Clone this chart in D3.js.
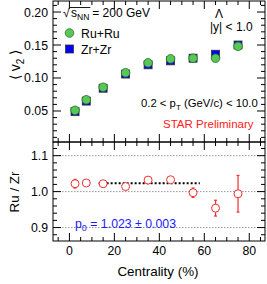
<!DOCTYPE html>
<html>
<head>
<meta charset="utf-8">
<script src="https://cdn.jsdelivr.net/npm/d3@7"></script>
<style>
  body { margin: 0; background: #fff; }
  svg { display: block; font-family: "Liberation Sans", Arial, sans-serif; }
</style>
</head>
<body>
<div id="chart"></div>
<script>
// centrality bins (%)
const cent = [2.5, 7.5, 15, 25, 35, 45, 55, 65, 75];
// <v2> for Ru+Ru and Zr+Zr
const v2Ru = [0.051, 0.067, 0.086, 0.108, 0.123, 0.129, 0.130, 0.130, 0.148];
const v2Zr = [0.049, 0.065, 0.0845, 0.106, 0.120, 0.126, 0.130, 0.136, 0.150];
// Ru / Zr ratio and its errors
const ratio = [1.022, 1.024, 1.022, 1.014, 1.032, 1.033, 0.997, 0.954, 0.994];
const ratioErr = [0.012, 0.005, 0.005, 0.005, 0.006, 0.007, 0.013, 0.022, 0.051];
// constant fit
const fitP0 = 1.023;
const fitRange = [13, 58];
// tick labels
const xTicks = [0, 20, 40, 60, 80];
const v2Ticks = [0.05, 0.10, 0.15, 0.20];
const ratioTicks = [0.9, 1.0, 1.1];

let W = 267, H = 284;
let pLeft = 53, pRight = 265, pTop = 1, pMid = 142, pBottom = 241;

let svg = d3.select("#chart").append("svg")
	.attr("width", W)
	.attr("height", H);

let x = d3.scaleLinear().domain([-7.3, 87]).range([pLeft, pRight]);
let yTop = d3.scaleLinear().domain([0.003, 0.2167]).range([pMid, pTop]);
let yBot = d3.scaleLinear().domain([0.8626, 1.138]).range([pBottom, pMid]);

// draw ticks of one panel on all four sides
function panelTicks(y, y0, y1, majorY, minorY) {
	let xMinor = d3.range(-5, 86, 5);
	let g = svg.append("g").attr("stroke", "#000").attr("stroke-width", 1);
	xMinor.forEach(function (v) {
		let len = (v % 20 === 0) ? 8 : 4;
		g.append("line").attr("x1", x(v)).attr("x2", x(v)).attr("y1", y(y0)).attr("y2", y(y0) - len);
		g.append("line").attr("x1", x(v)).attr("x2", x(v)).attr("y1", y(y1)).attr("y2", y(y1) + len);
	});
	minorY.forEach(function (v) {
		let major = majorY.some(function (m) { return Math.abs(m - v) < 1e-6; });
		let len = major ? 8 : 4;
		g.append("line").attr("x1", pLeft).attr("x2", pLeft + len).attr("y1", y(v)).attr("y2", y(v));
		g.append("line").attr("x1", pRight).attr("x2", pRight - len).attr("y1", y(v)).attr("y2", y(v));
	});
	svg.append("rect")
		.attr("x", pLeft).attr("y", y(y1))
		.attr("width", pRight - pLeft).attr("height", y(y0) - y(y1))
		.attr("fill", "none").attr("stroke", "#000").attr("stroke-width", 1);
}

// ---------- top panel ----------
panelTicks(yTop, 0.003, 0.2167, v2Ticks, d3.range(0.01, 0.215, 0.01));

svg.append("g").selectAll("text")
	.data(v2Ticks).enter().append("text")
	.attr("x", 48).attr("y", function (d) { return yTop(d) + 4.5; })
	.attr("text-anchor", "end").attr("font-size", 12.3)
	.text(function (d) { return d3.format(".2f")(d); });

svg.append("g").selectAll("rect")
	.data(cent).enter().append("rect")
	.attr("x", function (d) { return x(d) - 4; })
	.attr("y", function (d, i) { return yTop(v2Zr[i]) - 4; })
	.attr("width", 8).attr("height", 8)
	.attr("fill", "#0000ff").attr("stroke", "#333").attr("stroke-width", 0.8);

svg.append("g").selectAll("circle")
	.data(cent).enter().append("circle")
	.attr("cx", function (d) { return x(d); })
	.attr("cy", function (d, i) { return yTop(v2Ru[i]); })
	.attr("r", 4.3)
	.attr("fill", "#55c855").attr("stroke", "#2e6e2e").attr("stroke-width", 0.8);

// y title <v2>
let yt = svg.append("text")
	.attr("transform", "translate(20,65) rotate(-90)")
	.attr("text-anchor", "middle").attr("font-size", 14);
yt.append("tspan").text("\u27E8 v");
yt.append("tspan").attr("font-size", 10).attr("dy", 4).text("2");
yt.append("tspan").attr("dy", -4).text(" \u27E9");

// sqrt(sNN) label
svg.append("text").attr("x", 63).attr("y", 17).attr("font-size", 12).text("\u221A");
let sl = svg.append("text").attr("x", 71).attr("y", 17).attr("font-size", 12);
sl.append("tspan").text("s");
sl.append("tspan").attr("font-size", 8.5).attr("dy", 3).text("NN");
let sw = sl.node().getComputedTextLength();
svg.append("line").attr("x1", 70).attr("x2", 71 + sw + 1).attr("y1", 7.5).attr("y2", 7.5)
	.attr("stroke", "#000").attr("stroke-width", 0.9);
svg.append("text").attr("x", 71 + sw + 3).attr("y", 17).attr("font-size", 12).text("= 200 GeV");

// legend
svg.append("circle").attr("cx", 69.5).attr("cy", 33).attr("r", 4.3)
	.attr("fill", "#55c855").attr("stroke", "#2e6e2e").attr("stroke-width", 0.8);
svg.append("text").attr("x", 81).attr("y", 37.5).attr("font-size", 12.3).text("Ru+Ru");
svg.append("rect").attr("x", 65.5).attr("y", 45).attr("width", 8).attr("height", 8)
	.attr("fill", "#0000ff").attr("stroke", "#333").attr("stroke-width", 0.8);
svg.append("text").attr("x", 81).attr("y", 53.5).attr("font-size", 12.3).text("Zr+Zr");

svg.append("text").attr("x", 215).attr("y", 17.5).attr("font-size", 12).text("\u039B");
svg.append("text").attr("x", 210).attr("y", 31).attr("font-size", 12).text("|y| < 1.0");

let pt = svg.append("text").attr("x", 141).attr("y", 106.5).attr("font-size", 11.3);
pt.append("tspan").text("0.2 < p");
pt.append("tspan").attr("font-size", 8).attr("dy", 3).text("T");
pt.append("tspan").attr("dy", -3).text(" (GeV/c) < 10.0");

svg.append("text").attr("x", 163).attr("y", 127.5).attr("font-size", 11.5)
	.attr("fill", "#ff2020").text("STAR Preliminary");

// ---------- bottom panel ----------
svg.append("g").selectAll("line")
	.data(ratioTicks).enter().append("line")
	.attr("x1", pLeft).attr("x2", pRight)
	.attr("y1", function (d) { return yBot(d); }).attr("y2", function (d) { return yBot(d); })
	.attr("stroke", "#999").attr("stroke-width", 1).attr("stroke-dasharray", "1.5,1.5");

panelTicks(yBot, 0.8626, 1.138, ratioTicks, d3.range(0.88, 1.137, 0.02));

svg.append("g").selectAll("text")
	.data(ratioTicks).enter().append("text")
	.attr("x", 48).attr("y", function (d) { return yBot(d) + 4.5; })
	.attr("text-anchor", "end").attr("font-size", 12.3)
	.text(function (d) { return d3.format(".1f")(d); });

svg.append("g").selectAll("text")
	.data(xTicks).enter().append("text")
	.attr("x", function (d) { return x(d); }).attr("y", 255)
	.attr("text-anchor", "middle").attr("font-size", 12.3)
	.text(function (d) { return d; });

svg.append("text").attr("x", 158).attr("y", 276).attr("text-anchor", "middle")
	.attr("font-size", 13.4).text("Centrality (%)");

svg.append("text")
	.attr("transform", "translate(19,192) rotate(-90)")
	.attr("text-anchor", "middle").attr("font-size", 13.4).text("Ru / Zr");

// fit line
svg.append("line")
	.attr("x1", x(fitRange[0])).attr("x2", x(fitRange[1]))
	.attr("y1", yBot(fitP0)).attr("y2", yBot(fitP0))
	.attr("stroke", "#000").attr("stroke-width", 2).attr("stroke-dasharray", "2,2");

// error bars with small caps
let eb = svg.append("g").attr("stroke", "#f03030").attr("stroke-width", 1.2);
cent.forEach(function (c, i) {
	let lo = yBot(ratio[i] - ratioErr[i]), hi = yBot(ratio[i] + ratioErr[i]);
	eb.append("line").attr("x1", x(c)).attr("x2", x(c)).attr("y1", lo).attr("y2", hi);
	eb.append("line").attr("x1", x(c) - 1.5).attr("x2", x(c) + 1.5).attr("y1", lo).attr("y2", lo);
	eb.append("line").attr("x1", x(c) - 1.5).attr("x2", x(c) + 1.5).attr("y1", hi).attr("y2", hi);
});

svg.append("g").selectAll("circle")
	.data(cent).enter().append("circle")
	.attr("cx", function (d) { return x(d); })
	.attr("cy", function (d, i) { return yBot(ratio[i]); })
	.attr("r", 4)
	.attr("fill", "#fff").attr("stroke", "#f03030").attr("stroke-width", 1);

let p0 = svg.append("text").attr("x", 75).attr("y", 228).attr("font-size", 12.3).attr("fill", "#1a1aff");
p0.append("tspan").text("p");
p0.append("tspan").attr("font-size", 9).attr("dy", 3).text("0");
p0.append("tspan").attr("dy", -3).text(" = 1.023 \u00B1 0.003");
</script>
</body>
</html>
